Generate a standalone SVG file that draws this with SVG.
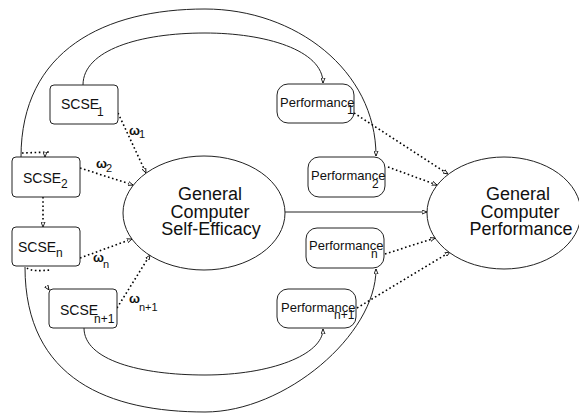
<svg xmlns="http://www.w3.org/2000/svg" width="579" height="413" viewBox="0 0 579 413">
<style>
text{font-family:"Liberation Sans",Arial,sans-serif;fill:#111}
.box{fill:#fff;stroke:#222;stroke-width:1}
.ell{fill:#fff;stroke:#222;stroke-width:1}
.big{font-size:18px;text-anchor:middle}
.lab{font-size:14px}
.plab{font-size:13px}
.sub{font-size:12px}
.psub{font-size:12px}
.om{font-size:13px;font-weight:bold}
.osub{font-size:11px}
.solid{fill:none;stroke:#222;stroke-width:1}
.dot{fill:none;stroke:#000;stroke-width:1.6;stroke-dasharray:1.6 2.6}
</style>
<defs>
<marker id="ah" viewBox="0 0 6 6" refX="6" refY="3" markerWidth="5" markerHeight="5" markerUnits="userSpaceOnUse" orient="auto">
<path d="M0,0.6 L6,3 L0,5.4 Z" fill="#fff" stroke="#000" stroke-width="1"/>
</marker>
</defs>
<g id="connectors">
<path class="solid" d="M21,157 C21,50 105,9 205,9 C295,9 376,70 376,156" marker-end="url(#ah)"/>
<path class="solid" d="M83,85 C83,50 140,33 205,33 C265,33 323,50 323,83" marker-end="url(#ah)"/>
<path class="solid" d="M84,328 C84,360 140,375 205,375 C270,375 323,355 323,329" marker-end="url(#ah)"/>
<path class="solid" d="M25,267 C25,380 110,412 205,412 C285,412 376,335 376,269" marker-end="url(#ah)"/>
<path class="solid" d="M285,212 L427,212" marker-end="url(#ah)"/>
<path class="dot" d="M118,113 L146,173" marker-end="url(#ah)"/>
<path class="dot" d="M80,168 L133,185" marker-end="url(#ah)"/>
<path class="dot" d="M80,258 L132,239" marker-end="url(#ah)"/>
<path class="dot" d="M117,308 L150,255" marker-end="url(#ah)"/>
<path class="dot" d="M354,113 L448,174" marker-end="url(#ah)"/>
<path class="dot" d="M388,167 L437,185" marker-end="url(#ah)"/>
<path class="dot" d="M385,254 L435,238" marker-end="url(#ah)"/>
<path class="dot" d="M357,308 L450,252" marker-end="url(#ah)"/>
<path class="dot" d="M22,153 L50,152"/>
<path class="dot" d="M45,152 L45,157" marker-end="url(#ah)"/>
<path class="dot" d="M43,197 L43,227" marker-end="url(#ah)"/>
<path class="dot" d="M27,268 C30,271 40,271 50,270"/>
<path class="solid" d="M47,287 L49,290" marker-end="url(#ah)"/>
</g>
<g id="scse1">
<rect class="box" x="50" y="85" width="68" height="39" rx="4"/>
<text class="lab" x="61" y="109">SCSE</text>
<text class="sub" x="97" y="116">1</text>
</g>
<g id="scse2">
<rect class="box" x="12" y="157" width="68" height="40" rx="4"/>
<text class="lab" x="23" y="183">SCSE</text>
<text class="sub" x="61" y="188">2</text>
</g>
<g id="scsen">
<rect class="box" x="12" y="227" width="68" height="39" rx="4"/>
<text class="lab" x="18" y="252">SCSE</text>
<text class="sub" x="56" y="257">n</text>
</g>
<g id="scsen1">
<rect class="box" x="49" y="289" width="68" height="39" rx="4"/>
<text class="lab" x="60" y="315">SCSE</text>
<text class="sub" x="94" y="323">n+1</text>
</g>
<g id="omega-labels">
<text class="om" x="129" y="135">ω</text><text class="osub" x="139" y="138">1</text>
<text class="om" x="96" y="168">ω</text><text class="osub" x="106" y="172">2</text>
<text class="om" x="93" y="262">ω</text><text class="osub" x="103" y="268">n</text>
<text class="om" x="129" y="303">ω</text><text class="osub" x="139" y="311">n+1</text>
</g>
<g id="gcse">
<ellipse class="ell" cx="204" cy="213" rx="81" ry="57"/>
<text class="big" x="210" y="200">General</text>
<text class="big" x="210" y="217.5">Computer</text>
<text class="big" x="211" y="235">Self-Efficacy</text>
</g>
<g id="gcp">
<ellipse class="ell" cx="504" cy="213" rx="77" ry="56"/>
<text class="big" x="518" y="200">General</text>
<text class="big" x="520" y="217.5">Computer</text>
<text class="big" x="521" y="235">Performance</text>
</g>
<g id="perf1">
<rect class="box" x="277" y="84" width="77" height="39" rx="11"/>
<text class="plab" x="280" y="107">Performance</text>
<text class="psub" x="347" y="114">1</text>
</g>
<g id="perf2">
<rect class="box" x="308" y="157" width="77" height="40" rx="11"/>
<text class="plab" x="311" y="180">Performance</text>
<text class="psub" x="372" y="188">2</text>
</g>
<g id="perfn">
<rect class="box" x="306" y="228" width="78" height="40" rx="11"/>
<text class="plab" x="309" y="250">Performance</text>
<text class="psub" x="371" y="258">n</text>
</g>
<g id="perfn1">
<rect class="box" x="277" y="289" width="79" height="39" rx="11"/>
<text class="plab" x="281" y="312">Performance</text>
<text class="psub" x="334" y="319">n+1</text>
</g>
</svg>
